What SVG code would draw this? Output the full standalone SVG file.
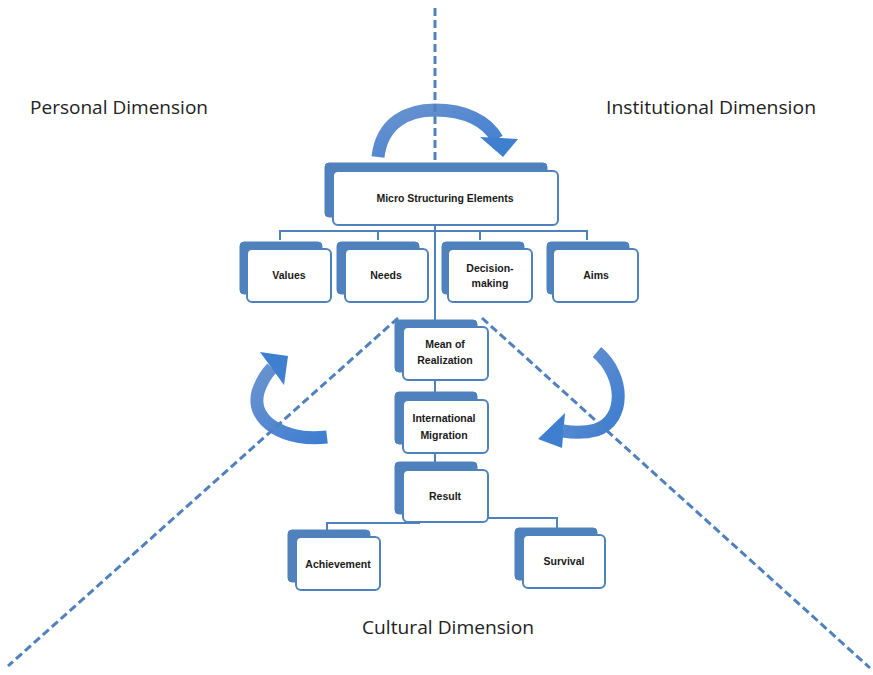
<svg xmlns="http://www.w3.org/2000/svg" width="873" height="675" viewBox="0 0 873 675">
<defs>
<style>
.dash{fill:none;stroke:#4F81BD;stroke-width:3;stroke-dasharray:8 4}
.conn{fill:none;stroke:#4F81BD;stroke-width:2}
.back{fill:#4F81BD;stroke:#4F81BD;stroke-width:1}
.front{fill:#fff;stroke:#4F81BD;stroke-width:2}
.t{font-family:"Liberation Sans",Arial,sans-serif;font-size:10.5px;font-weight:bold;fill:#1a1a1a;text-anchor:middle}
.dim{font-family:"Open Sans","Liberation Sans",sans-serif;font-size:17.5px;fill:#222}
.arr{fill:none;stroke:url(#g);stroke-width:13}
.head{fill:#3F7FD0}
</style>
<linearGradient id="g" x1="0" y1="0" x2="1" y2="1">
<stop offset="0" stop-color="#6A93CF"/>
<stop offset="1" stop-color="#3E7DD1"/>
</linearGradient>
</defs>
<rect width="873" height="675" fill="#fff"/>

<g id="labels">
<text class="dim" x="30" y="114" textLength="178" lengthAdjust="spacingAndGlyphs">Personal Dimension</text>
<text class="dim" x="606" y="114" textLength="210" lengthAdjust="spacingAndGlyphs">Institutional Dimension</text>
<text class="dim" x="362" y="634" textLength="172" lengthAdjust="spacingAndGlyphs">Cultural Dimension</text>
</g>

<g id="arrows">
<path class="arr" d="M378,157 C382,122 408,110 435,110 C465,110 487,121 497,139"/>
<polygon class="head" points="480,137 518,139 503,157"/>
<path class="arr" d="M327,437 C287,442 250,422 258,392 Q263,377 272,368"/>
<polygon class="head" points="260,352 288,356 284,385"/>
<path class="arr" d="M597,352 C625,376 626,420 596,430 Q581,434 563,431"/>
<polygon class="head" points="565,413 562,448 538,439"/>
</g>

<g id="dimension-lines">
<line class="dash" x1="435" y1="8" x2="435" y2="166"/>
<line class="dash" x1="398" y1="318" x2="8" y2="666"/>
<line class="dash" x1="482" y1="318" x2="870" y2="668"/>
</g>

<g id="connectors">
<line class="conn" x1="435" y1="224" x2="435" y2="322"/>
<polyline class="conn" points="280,240 280,231 587,231 587,240"/>
<line class="conn" x1="378" y1="231" x2="378" y2="240"/>
<line class="conn" x1="480" y1="231" x2="480" y2="240"/>
<line class="conn" x1="435" y1="378" x2="435" y2="394"/>
<line class="conn" x1="435" y1="452" x2="435" y2="464"/>
<polyline class="conn" points="327,530 327,523 420,523"/>
<polyline class="conn" points="470,518 557,518 557,530"/>
</g>

<g id="micro">
<rect class="back" x="325" y="163" width="222" height="54" rx="4"/>
<rect class="front" x="333" y="171" width="225" height="54" rx="5"/>
<text class="t" x="445" y="202">Micro Structuring Elements</text>
</g>

<g id="values">
<rect class="back" x="240" y="242" width="82" height="52" rx="4"/>
<rect class="front" x="247" y="249" width="84" height="53" rx="5"/>
<text class="t" x="289" y="279">Values</text>
</g>
<g id="needs">
<rect class="back" x="337" y="242" width="82" height="52" rx="4"/>
<rect class="front" x="345" y="249" width="83" height="53" rx="5"/>
<text class="t" x="386" y="279">Needs</text>
</g>
<g id="decision">
<rect class="back" x="442" y="242" width="82" height="52" rx="4"/>
<rect class="front" x="448" y="249" width="84" height="53" rx="5"/>
<text class="t" x="490" y="272">Decision-</text>
<text class="t" x="490" y="287">making</text>
</g>
<g id="aims">
<rect class="back" x="547" y="242" width="82" height="52" rx="4"/>
<rect class="front" x="553" y="249" width="85" height="53" rx="5"/>
<text class="t" x="596" y="279">Aims</text>
</g>

<g id="mean">
<rect class="back" x="395" y="320" width="82" height="52" rx="4"/>
<rect class="front" x="403" y="327" width="85" height="53" rx="5"/>
<text class="t" x="445" y="348">Mean of</text>
<text class="t" x="445" y="364">Realization</text>
</g>
<g id="migration">
<rect class="back" x="395" y="392" width="82" height="52" rx="4"/>
<rect class="front" x="403" y="400" width="85" height="53" rx="5"/>
<text class="t" x="444" y="422">International</text>
<text class="t" x="444" y="439">Migration</text>
</g>
<g id="result">
<rect class="back" x="395" y="462" width="82" height="52" rx="4"/>
<rect class="front" x="403" y="470" width="85" height="52" rx="5"/>
<text class="t" x="445" y="500">Result</text>
</g>
<g id="achievement">
<rect class="back" x="288" y="530" width="82" height="52" rx="4"/>
<rect class="front" x="296" y="537" width="84" height="53" rx="5"/>
<text class="t" x="338" y="568">Achievement</text>
</g>
<g id="survival">
<rect class="back" x="515" y="528" width="82" height="52" rx="4"/>
<rect class="front" x="523" y="535" width="82" height="53" rx="5"/>
<text class="t" x="564" y="565">Survival</text>
</g>
</svg>
